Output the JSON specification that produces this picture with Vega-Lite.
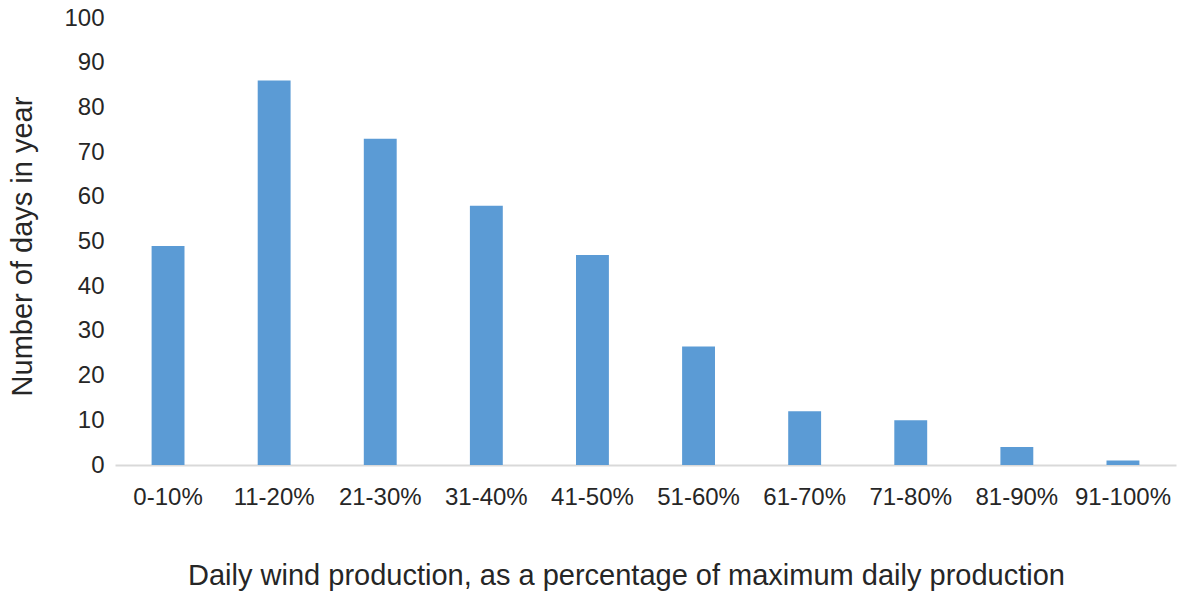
{
  "$schema": "https://vega.github.io/schema/vega-lite/v6.json",
  "autosize": "none",
  "width": 1061,
  "height": 447,
  "padding": {"left": 115, "top": 18, "right": 1, "bottom": 129},
  "background": "white",
  "config": {
    "view": {"stroke": null},
    "font": "Liberation Sans"
  },
  "data": {
    "values": [
      {"range": "0-10%", "days": 49},
      {"range": "11-20%", "days": 86},
      {"range": "21-30%", "days": 73},
      {"range": "31-40%", "days": 58},
      {"range": "41-50%", "days": 47},
      {"range": "51-60%", "days": 26.5},
      {"range": "61-70%", "days": 12},
      {"range": "71-80%", "days": 10},
      {"range": "81-90%", "days": 4},
      {"range": "91-100%", "days": 1}
    ]
  },
  "mark": {"type": "bar", "color": "#5B9BD5"},
  "encoding": {
    "x": {
      "field": "range",
      "type": "nominal",
      "sort": null,
      "scale": {"paddingInner": 0.69, "paddingOuter": 0.345},
      "axis": {
        "title": "Daily wind production, as a percentage of maximum daily production",
        "titleFontSize": 29,
        "titleFontWeight": "normal",
        "titleColor": "#262626",
        "titleX": 511,
        "titlePadding": 52,
        "labelAngle": 0,
        "labelFontSize": 24,
        "labelColor": "#262626",
        "labelPadding": 20,
        "ticks": false,
        "domainColor": "#d9d9d9",
        "domainWidth": 2
      }
    },
    "y": {
      "field": "days",
      "type": "quantitative",
      "scale": {"domain": [0, 100]},
      "axis": {
        "title": "Number of days in year",
        "titleFontSize": 29,
        "titleFontWeight": "normal",
        "titleColor": "#262626",
        "titleY": 228,
        "titlePadding": 26,
        "values": [0, 10, 20, 30, 40, 50, 60, 70, 80, 90, 100],
        "labelFontSize": 24,
        "labelColor": "#262626",
        "labelPadding": 11,
        "ticks": false,
        "domain": false,
        "grid": false
      }
    }
  }
}
